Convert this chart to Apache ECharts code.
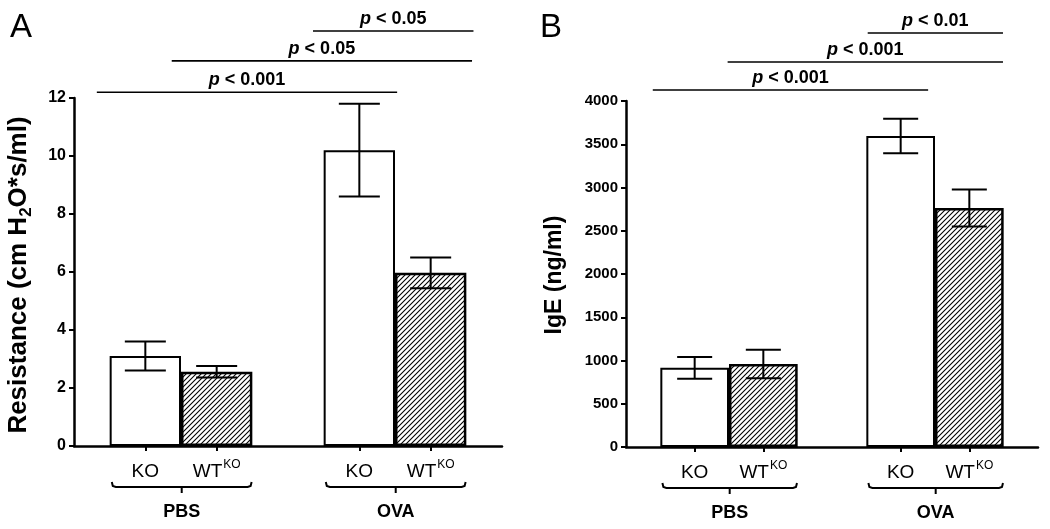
<!DOCTYPE html>
<html><head><meta charset="utf-8">
<script src="https://cdn.jsdelivr.net/npm/echarts@6/dist/echarts.min.js"></script>
<style>html,body{margin:0;padding:0;background:#fff}#c{width:1050px;height:529px}</style>
</head><body><div id="c"></div>
<script>
// ---------- data ----------
const categories = ['', 'KO', 'WT', '', 'KO', 'WT', ''];
const groups = ['PBS', 'OVA'];
const groupSpans = [[1, 2], [4, 5]];

// Panel A: airway resistance
const resKO = [3.1, 10.2];
const resKOErr = [0.5, 1.6];
const resWT = [2.56, 5.97];
const resWTErr = [0.2, 0.53];
const resTicks = { min: 0, max: 12, interval: 2 };
// significance bars: [from, to, height, label]
const resSig = [[0.32, 4.53, 12.2, '< 0.001'], [1.37, 5.58, 13.28, '< 0.05'], [3.35, 5.60, 14.31, '< 0.05']];

// Panel B: IgE
const igeKO = [915, 3595];
const igeKOErr = [125, 200];
const igeWT = [960, 2763];
const igeWTErr = [165, 215];
const igeTicks = { min: 0, max: 4000, interval: 500 };
const igeSig = [[0.39, 4.40, 4127, '< 0.001'], [1.48, 5.49, 4451, '< 0.001'], [3.52, 5.49, 4786, '< 0.01']];

// ---------- helpers ----------
const FONT = '"Liberation Sans", Arial, sans-serif';
const koIdx = categories.map((c, i) => c === 'KO' ? i : -1).filter(i => i >= 0);
const wtIdx = categories.map((c, i) => c === 'WT' ? i : -1).filter(i => i >= 0);
function slots(vals, idx) {
  const out = categories.map(() => '-');
  idx.forEach((k, j) => { out[k] = vals[j]; });
  return out;
}
function hatch() {
  const n = 5, c = document.createElement('canvas');
  c.width = n; c.height = n;
  const g = c.getContext('2d');
  g.fillStyle = '#fff'; g.fillRect(0, 0, n, n);
  g.strokeStyle = '#000'; g.lineWidth = 1.1;
  g.beginPath();
  g.moveTo(0, n); g.lineTo(n, 0);
  g.moveTo(-1, 1); g.lineTo(1, -1);
  g.moveTo(n - 1, n + 1); g.lineTo(n + 1, n - 1);
  g.stroke();
  return c;
}
const hatchImg = hatch();
const lineStyle = (w) => ({ stroke: '#000', lineWidth: w });

function errSeries(xi, yi, idx, vals, errs, capRatio) {
  return {
    type: 'custom', xAxisIndex: xi, yAxisIndex: yi, clip: false, silent: true, z: 5,
    data: idx.map((k, j) => [k, vals[j], errs[j]]),
    renderItem(params, api) {
      const x = api.value(0), v = api.value(1), e = api.value(2);
      const t = api.coord([x, v + e]), b = api.coord([x, v - e]);
      const hw = api.size([1, 0])[0] * capRatio / 2;
      return { type: 'group', children: [
        { type: 'line', shape: { x1: t[0], y1: t[1], x2: b[0], y2: b[1] }, style: lineStyle(2) },
        { type: 'line', shape: { x1: t[0] - hw, y1: t[1], x2: t[0] + hw, y2: t[1] }, style: lineStyle(2) },
        { type: 'line', shape: { x1: b[0] - hw, y1: b[1], x2: b[0] + hw, y2: b[1] }, style: lineStyle(2) }
      ]};
    }
  };
}
function sigSeries(xi, yi, sig) {
  return {
    type: 'custom', xAxisIndex: xi, yAxisIndex: yi, clip: false, silent: true, z: 5,
    data: sig.map(s => [s[0], s[1], s[2]]),
    renderItem(params, api) {
      const a = api.coord([api.value(0), api.value(2)]);
      const b = api.coord([api.value(1), api.value(2)]);
      return { type: 'group', children: [
        { type: 'line', shape: { x1: a[0], y1: a[1], x2: b[0], y2: b[1] }, style: lineStyle(1.6) },
        { type: 'text', x: (a[0] + b[0]) / 2, y: a[1] - 12, style: {
          text: '{p|p} ' + sig[params.dataIndex][3],
          font: 'bold 18px ' + FONT, fill: '#000', align: 'center', verticalAlign: 'middle',
          rich: { p: { fontStyle: 'italic', fontWeight: 'bold', fontSize: 18, fontFamily: FONT } }
        } }
      ]};
    }
  };
}
function braceSeries(xi, yi) {
  return {
    type: 'custom', xAxisIndex: xi, yAxisIndex: yi, clip: false, silent: true,
    data: groupSpans.map(s => [s[0], s[1]]),
    renderItem(params, api) {
      const a = api.coord([api.value(0), 0]);
      const b = api.coord([api.value(1), 0]);
      const band = api.size([1, 0])[0];
      const x1 = a[0] - band * 0.47, x2 = b[0] + band * 0.49, y = a[1] + 41, xm = (x1 + x2) / 2;
      return { type: 'group', children: [
        { type: 'polyline', shape: { points: [[x1, y - 5], [x1 + 1, y - 1], [x1 + 4, y], [x2 - 4, y], [x2 - 1, y - 1], [x2, y - 5]] }, style: { stroke: '#000', lineWidth: 2, fill: null } },
        { type: 'line', shape: { x1: xm, y1: y, x2: xm, y2: y + 6 }, style: lineStyle(2) },
        { type: 'text', x: xm, y: y + 25, style: { text: groups[params.dataIndex], font: 'bold 18px ' + FONT, fill: '#000', align: 'center', verticalAlign: 'middle' } }
      ]};
    }
  };
}
function yAxis(gi, t, fs) {
  return {
    type: 'value', gridIndex: gi, min: t.min, max: t.max, interval: t.interval,
    axisLine: { show: true, lineStyle: { color: '#000', width: 2.5 } },
    axisTick: { show: true, length: 5, lineStyle: { color: '#000', width: 2 } },
    axisLabel: { color: '#000', fontSize: fs, fontWeight: 'bold', fontFamily: FONT, margin: 8, formatter: v => String(v) },
    splitLine: { show: false }
  };
}
function catAxis(gi) {
  return {
    type: 'category', gridIndex: gi, data: categories, boundaryGap: false,
    axisLine: { lineStyle: { color: '#000', width: 2.5 } },
    axisTick: { length: 5, interval: (i, v) => v !== '', lineStyle: { color: '#000', width: 2 } },
    axisLabel: {
      interval: (i, v) => v !== '', margin: 13, color: '#000', fontSize: 19, fontFamily: FONT,
      formatter: v => v === 'WT' ? '{m|WT}{s|KO}' : '{m|' + v + '}',
      rich: {
        m: { fontSize: 19, fontFamily: FONT, color: '#000', lineHeight: 22, verticalAlign: 'bottom' },
        s: { fontSize: 12, fontFamily: FONT, color: '#000', lineHeight: 22, verticalAlign: 'top', padding: [0, 0, 0, 1] }
      }
    },
    splitLine: { show: false }
  };
}
function valAxis(gi) {
  return { type: 'value', gridIndex: gi, min: 0, max: categories.length - 1, show: false, splitLine: { show: false } };
}
function bars(xi, yi, vals, idx, style) {
  return { type: 'bar', xAxisIndex: xi, yAxisIndex: yi, data: slots(vals, idx), barWidth: '100%', barGap: '-100%', silent: true, itemStyle: style };
}
const koStyle = { color: '#fff', borderColor: '#000', borderWidth: 2 };
const wtStyle = { color: { image: hatchImg, repeat: 'repeat' }, borderColor: '#000', borderWidth: 2.5 };

const option = {
  animation: false,
  backgroundColor: '#fff',
  textStyle: { fontFamily: FONT },
  title: [
    { text: 'A', left: 5, top: 6, textStyle: { fontSize: 33, fontWeight: 'normal', color: '#000', fontFamily: FONT } },
    { text: 'B', left: 535, top: 6, textStyle: { fontSize: 33, fontWeight: 'normal', color: '#000', fontFamily: FONT } }
  ],
  grid: [
    { left: 74, top: 98, width: 428, height: 348 },
    { left: 626, top: 101, width: 412, height: 346 }
  ],
  xAxis: [catAxis(0), valAxis(0), catAxis(1), valAxis(1)],
  yAxis: [yAxis(0, resTicks, 16), yAxis(1, igeTicks, 15)],
  graphic: [
    { type: 'text', x: 19, y: 275, rotation: Math.PI / 2, style: {
      text: '{m|Resistance (cm H}{s|2}{m|O*s/ml)}', align: 'center', verticalAlign: 'middle',
      rich: { m: { fontSize: 26, fontWeight: 'bold', fontFamily: FONT, fill: '#000', lineHeight: 31 },
              s: { fontSize: 17, fontWeight: 'bold', fontFamily: FONT, fill: '#000', lineHeight: 31, verticalAlign: 'bottom', padding: [9, 0, 0, 0] } } } },
    { type: 'text', x: 555, y: 275, rotation: Math.PI / 2, style: {
      text: 'IgE (ng/ml)', align: 'center', verticalAlign: 'middle', font: 'bold 23px ' + FONT, fill: '#000' } }
  ],
  series: [
    bars(0, 0, resKO, koIdx, koStyle),
    bars(0, 0, resWT, wtIdx, wtStyle),
    errSeries(1, 0, koIdx, resKO, resKOErr, 0.575),
    errSeries(1, 0, wtIdx, resWT, resWTErr, 0.575),
    sigSeries(1, 0, resSig),
    braceSeries(1, 0),
    bars(2, 1, igeKO, koIdx, koStyle),
    bars(2, 1, igeWT, wtIdx, wtStyle),
    errSeries(3, 1, koIdx, igeKO, igeKOErr, 0.51),
    errSeries(3, 1, wtIdx, igeWT, igeWTErr, 0.51),
    sigSeries(3, 1, igeSig),
    braceSeries(3, 1)
  ]
};
const chart = echarts.init(document.getElementById('c'), null, { renderer: 'canvas' });
chart.setOption(option);
</script>
</body></html>
